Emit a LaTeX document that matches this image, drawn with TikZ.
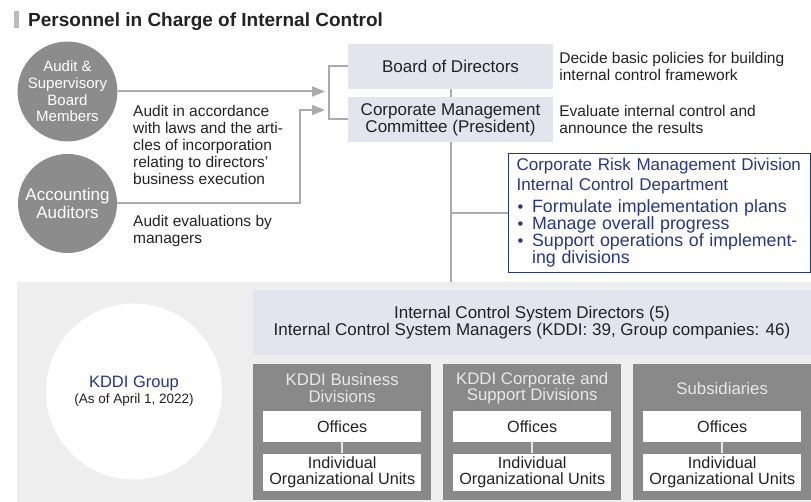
\documentclass[tikz,border=0pt]{standalone}
\usepackage{fontspec}
\setmainfont{Liberation Sans}
\usepackage{xcolor}
\usetikzlibrary{positioning, arrows.meta}

\definecolor{ink}{HTML}{222222}
\definecolor{navy}{HTML}{23378C}
\definecolor{circgray}{HTML}{8C8C8C}
\definecolor{linegray}{HTML}{ABABAB}
\definecolor{lavender}{HTML}{E4E4EF}
\definecolor{panelgray}{HTML}{EEEEEE}
\definecolor{divgray}{HTML}{898989}
\definecolor{divtext}{HTML}{E8E8E8}
\definecolor{barcolor}{HTML}{BBBBBB}

% bullet with a fixed hanging indent
\newcommand{\riskitem}{\makebox[15.5pt][l]{\hspace{1pt}{\fontsize{16.5}{13}\selectfont•}}}

\tikzset{
  every node/.style={font=\fontsize{15.5}{17}\selectfont, text=ink},
  heading/.style={font=\fontsize{19}{20}\selectfont\bfseries, inner sep=0pt},
  member/.style={circle, fill=circgray, text=white, minimum size=99pt, inner sep=0pt, align=center,
    font=\fontsize{15}{16.7}\selectfont},
  organ/.style={rectangle, fill=lavender, minimum width=205pt, minimum height=45pt, inner sep=0pt,
    align=center, font=\fontsize{17}{17.3}\selectfont},
  note/.style={align=left, inner sep=2pt},
  link/.style={draw=linegray, line width=2pt},
  feed/.style={-{Triangle[length=13pt, width=10pt]}},
  riskbox/.style={rectangle, draw=navy, line width=1.2pt, fill=white, text=navy, align=left,
    text width=286pt, inner xsep=8pt, inner ysep=0pt, minimum height=119pt,
    font=\fontsize{17}{17}\selectfont},
  panel/.style={rectangle, fill=panelgray, minimum width=794pt, minimum height=220pt, inner sep=0pt},
  groupcirc/.style={circle, fill=white, minimum size=176pt, inner sep=0pt, align=center},
  lavbox/.style={rectangle, fill=lavender, inner sep=0pt, align=center, font=\fontsize{17}{16.6}\selectfont},
  division/.style={rectangle, fill=divgray, minimum width=178pt, minimum height=136pt, inner sep=0pt},
  divtitle/.style={text=divtext, align=center, inner sep=0pt, font=\fontsize{16.8}{16.5}\selectfont},
  unitbox/.style={rectangle, fill=white, minimum width=158pt, inner sep=0pt, align=center,
    font=\fontsize{16.2}{15.5}\selectfont},
  tie/.style={draw=white!80!divgray, line width=1.5pt}
}

\begin{document}
\begin{tikzpicture}[x=1pt, y=-1pt]
\useasboundingbox (0,0) rectangle (811,502);

% heading
\fill[barcolor] (14,11) rectangle (19,28);
\node[heading, anchor=base west] (head) at (28,27) {Personnel in Charge of Internal Control};

% auditors
\node[member] (sup) at (67.5,91.5) {Audit \&\\Supervisory\\Board\\Members};
\node[member, font=\fontsize{17}{17.5}\selectfont] (acc) at (67.5,203.5) {Accounting\\Auditors};

\node[note, anchor=west] (auditnote) at (131,144.5) {Audit in accordance\\with laws and the arti-\\cles of incorporation\\relating to directors’\\business execution};
\node[note, anchor=west] (evalnote) at (131,230.5) {Audit evaluations by\\managers};

% board and committee
\node[organ] (board) at (450.5,66.5) {Board of Directors};
\node[organ] (cmc) at (450.5,119.5) {Corporate Management\\Committee (President)};
\node[note, right=4pt of board] (boardnote) {Decide basic policies for building\\internal control framework};
\node[note, right=4pt of cmc] (cmcnote) {Evaluate internal control and\\announce the results};

\coordinate (inA) at (325,91.5);
\coordinate (inB) at (325,110);
\coordinate (bend) at (300,203.5);

\draw[link] (board.west) -- ++(-19,0) |- (cmc.west);
\draw[link, feed] (sup.east) -- (inA);
\draw[link, feed] (acc.east) -- (bend) |- (inB);
\draw[link] (board.south) -- (cmc.north);

% risk management
\node[riskbox, anchor=north west] (risk) at (508,153) {Corporate Risk Management Division\\[3pt]
Internal Control Department\\[5pt]
{\fontsize{17.8}{17}\selectfont\riskitem Formulate implementation plans}\\
{\fontsize{17.8}{17}\selectfont\riskitem Manage overall progress}\\
{\fontsize{17.8}{17}\selectfont\riskitem Support operations of implement-}\\
{\fontsize{17.8}{17}\selectfont\hspace{15.5pt}ing divisions}};

% group
\node[panel, anchor=north west] (grp) at (17,282) {};
\draw[link] (cmc.south) -- (cmc.south |- grp.north);
\draw[link] (cmc.south |- risk.west) -- (risk.west);

\node[groupcirc] (kddi) at (134,391.5) {\textcolor{navy}{\fontsize{16.5}{17}\selectfont KDDI Group}\\[-1pt]{\fontsize{13.5}{14}\selectfont (As of April 1, 2022)}};
\node[lavbox, minimum width=558pt, minimum height=65pt] (ics) at (532,322.5) {Internal Control System Directors (5)\\Internal Control System Managers (KDDI: 39, Group companies: 46)};

\node[division, anchor=north west] (bus) at (253,364) {};
\node[divtitle] (bustitle) at ([yshift=-24pt]bus.north) {KDDI Business\\Divisions};
\node[unitbox, minimum height=31pt, below=47pt of bus.north] (busoff) {Offices};
\node[unitbox, minimum height=37pt, below=11pt of busoff] (busunit) {Individual\\Organizational Units};
\draw[tie] (busoff) -- (busunit);

\node[division, anchor=north west] (corp) at (443,364) {};
\node[divtitle] (corptitle) at ([yshift=-24pt]corp.north) {KDDI Corporate and\\Support Divisions};
\node[unitbox, minimum height=31pt, below=47pt of corp.north] (corpoff) {Offices};
\node[unitbox, minimum height=37pt, below=11pt of corpoff] (corpunit) {Individual\\Organizational Units};
\draw[tie] (corpoff) -- (corpunit);

\node[division, anchor=north west] (subs) at (633,364) {};
\node[divtitle] (substitle) at ([yshift=-24pt]subs.north) {Subsidiaries};
\node[unitbox, minimum height=31pt, below=47pt of subs.north] (subsoff) {Offices};
\node[unitbox, minimum height=37pt, below=11pt of subsoff] (subsunit) {Individual\\Organizational Units};
\draw[tie] (subsoff) -- (subsunit);

\end{tikzpicture}
\end{document}
